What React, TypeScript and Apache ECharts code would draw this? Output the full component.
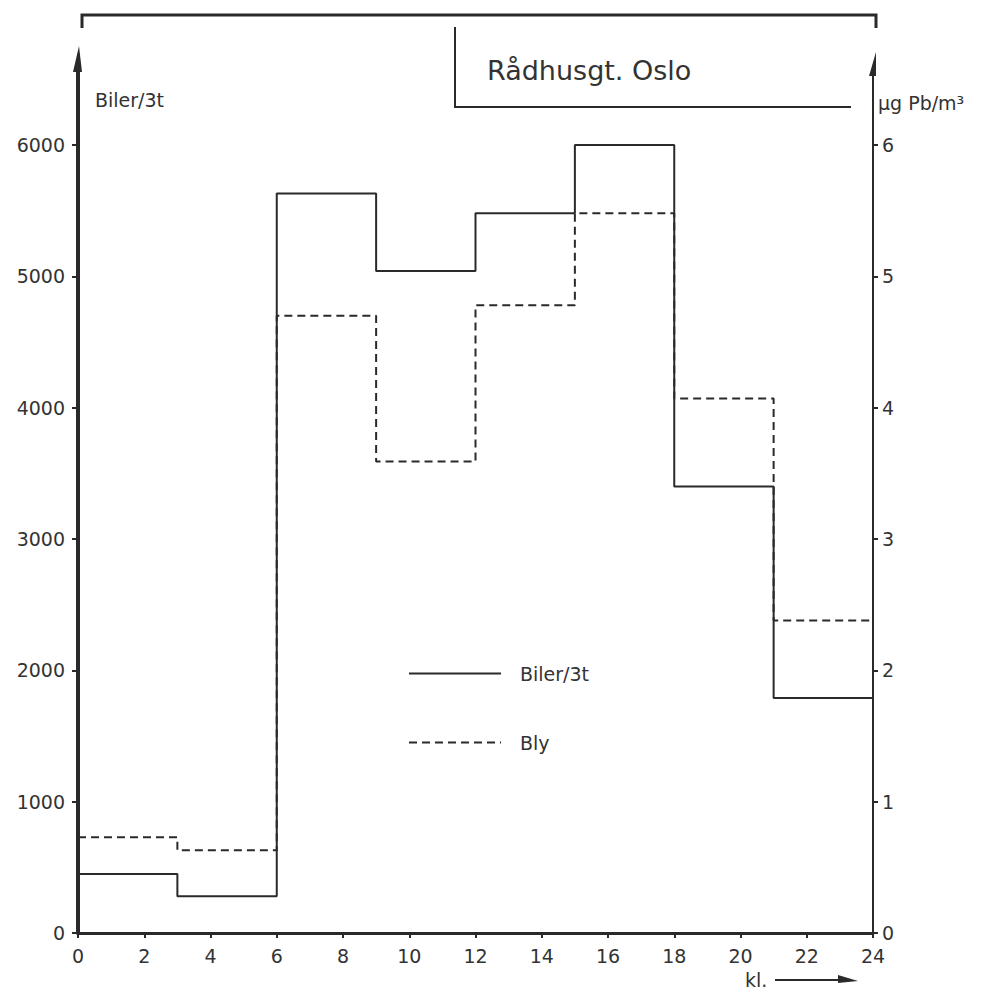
import React, { useEffect, useRef } from "react";
import * as echarts from "echarts";

// Start hour of each 3-hour interval
const hours = [0, 3, 6, 9, 12, 15, 18, 21];
const endHour = 24;
// Biler/3t (cars per 3 hours), left axis
const bilerPer3t = [450, 280, 5630, 5040, 5480, 6000, 3400, 1790];
// Bly (µg Pb/m3), right axis
const blyUgPerM3 = [0.73, 0.63, 4.7, 3.59, 4.78, 5.48, 4.07, 2.38];

const FONT = "DejaVu Sans";
const INK = "#2a2a2a";

function stepData(xs: number[], ys: number[]) {
  const d = xs.map((x, i) => [x, ys[i]]);
  d.push([endHour, ys[ys.length - 1]]);
  return d;
}

export default function App() {
  const ref = useRef<HTMLDivElement>(null);
  useEffect(() => {
    if (!ref.current) return;
    const chart = echarts.init(ref.current, undefined, { renderer: "svg" });
    const L = 78, R = 873, T = 145, B = 933;
    chart.setOption({
      animation: false,
      backgroundColor: "#ffffff",
      grid: { left: L, right: 987 - R, top: T, bottom: 996 - B },
      xAxis: {
        type: "value",
        min: 0,
        max: 24,
        interval: 2,
        axisLine: { lineStyle: { color: INK, width: 3 } },
        axisTick: { length: 5, lineStyle: { color: INK, width: 2 } },
        axisLabel: { color: "#333", fontFamily: FONT, fontSize: 19, margin: 13 },
        splitLine: { show: false },
      },
      yAxis: [
        {
          type: "value",
          min: 0,
          max: 6000,
          interval: 1000,
          axisLine: { show: true, lineStyle: { color: INK, width: 4 } },
          axisTick: { show: true, length: 6, lineStyle: { color: INK, width: 2 } },
          axisLabel: { color: "#333", fontFamily: FONT, fontSize: 19, margin: 13, formatter: (v: number) => String(v) },
          splitLine: { show: false },
        },
        {
          type: "value",
          min: 0,
          max: 6,
          interval: 1,
          position: "right",
          axisLine: { show: true, lineStyle: { color: INK, width: 2 } },
          axisTick: { show: true, length: 5, lineStyle: { color: INK, width: 2 } },
          axisLabel: { color: "#333", fontFamily: FONT, fontSize: 19, margin: 9 },
          splitLine: { show: false },
        },
      ],
      legend: {
        orient: "vertical",
        left: 408,
        top: 664,
        itemWidth: 92,
        itemHeight: 14,
        itemGap: 50,
        padding: 0,
        itemStyle: { opacity: 0, borderWidth: 0 },
        textStyle: { color: "#333", fontFamily: FONT, fontSize: 19, padding: [0, 0, 0, 14] },
        data: ["Biler/3t", "Bly"],
      },
      series: [
        {
          name: "Biler/3t",
          type: "line",
          step: "end",
          symbol: "none",
          yAxisIndex: 0,
          lineStyle: { color: INK, width: 2 },
          itemStyle: { color: INK },
          data: stepData(hours, bilerPer3t),
        },
        {
          name: "Bly",
          type: "line",
          step: "end",
          symbol: "none",
          yAxisIndex: 1,
          lineStyle: { color: INK, width: 2, type: [8, 5] },
          itemStyle: { color: INK },
          data: stepData(hours, blyUgPerM3),
        },
      ],
      graphic: [
        { type: "polyline", shape: { points: [[82, 28], [82, 15], [876, 15], [876, 28]] }, style: { stroke: INK, lineWidth: 3, fill: null } },
        { type: "polyline", shape: { points: [[455, 27], [455, 107], [851, 107]] }, style: { stroke: INK, lineWidth: 2, fill: null } },
        { type: "text", x: 487, y: 70, style: { text: "Rådhusgt. Oslo", font: `27px "${FONT}"`, fill: "#333", verticalAlign: "middle" } },
        { type: "line", shape: { x1: L, y1: T + 2, x2: L, y2: 62 }, style: { stroke: INK, lineWidth: 4 } },
        { type: "polygon", shape: { points: [[73, 72], [79, 46], [82, 72]] }, style: { fill: INK } },
        { type: "line", shape: { x1: R, y1: T + 2, x2: R, y2: 66 }, style: { stroke: INK, lineWidth: 2 } },
        { type: "polygon", shape: { points: [[869, 76], [876, 52], [876, 76]] }, style: { fill: INK } },
        { type: "text", x: 95, y: 100, style: { text: "Biler/3t", font: `19px "${FONT}"`, fill: "#333", verticalAlign: "middle" } },
        { type: "text", x: 878, y: 103, style: { text: "µg Pb/m³", font: `19px "${FONT}"`, fill: "#333", verticalAlign: "middle" } },
        { type: "text", x: 745, y: 980, style: { text: "kl.", font: `19px "${FONT}"`, fill: "#333", verticalAlign: "middle" } },
        { type: "line", shape: { x1: 775, y1: 980, x2: 850, y2: 980 }, style: { stroke: INK, lineWidth: 2 } },
        { type: "polygon", shape: { points: [[838, 975], [858, 981], [838, 983]] }, style: { fill: INK } },
      ],
    });
    return () => chart.dispose();
  }, []);
  return <div ref={ref} style={{ position: "absolute", left: 0, top: 0, width: 987, height: 996 }} />;
}
